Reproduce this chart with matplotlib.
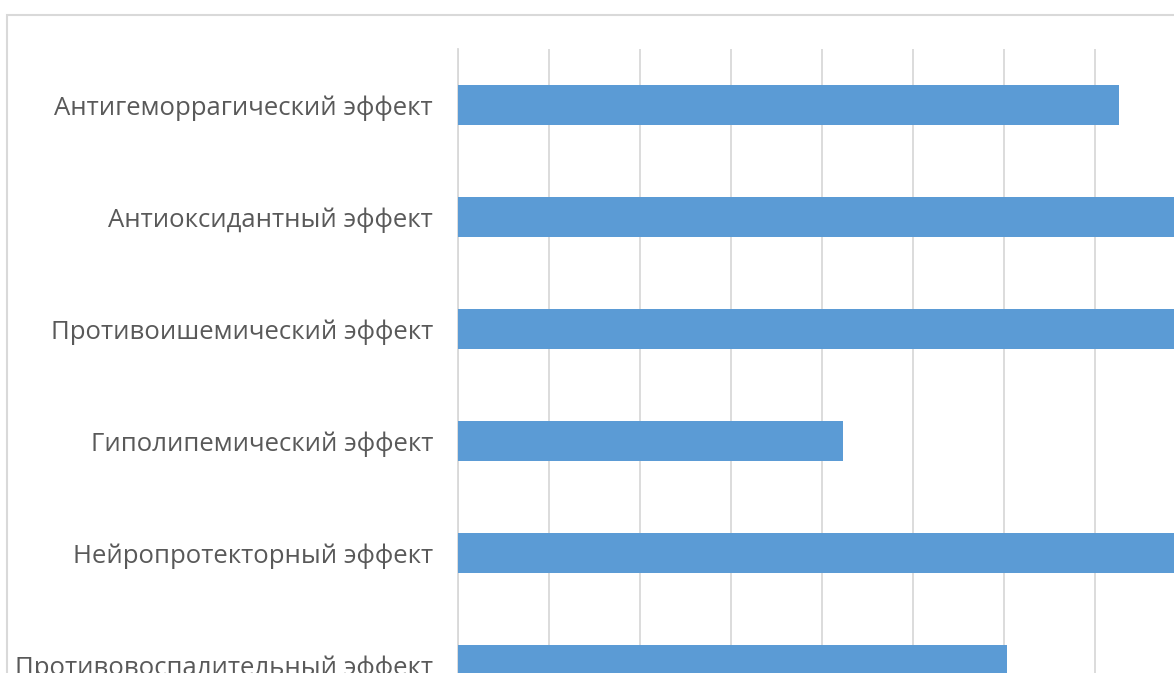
import matplotlib.pyplot as plt
from matplotlib.patches import Rectangle

# Эффекты (сверху вниз) и их оценки
effects = ['Антигеморрагический эффект', 'Антиоксидантный эффект',
           'Противоишемический эффект', 'Гиполипемический эффект',
           'Нейропротекторный эффект', 'Противовоспалительный эффект']
scores = [7.26, 9.0, 9.0, 4.23, 9.0, 6.03]

W, H = 1174, 673
fig = plt.figure(figsize=(W / 100, H / 100), dpi=100)

# область построения: 91 px на деление, уходит за правый и нижний край
x0, y_top = 458, 49
x_max = 9
row = 112
ax = fig.add_axes([x0 / W, 1 - (y_top + row * len(effects)) / H,
                   91 * x_max / W, row * len(effects) / H])

ax.barh(range(len(effects)), scores, height=0.357, color='#5b9bd5', zorder=3)
ax.set_ylim(len(effects) - 0.5, -0.5)
ax.set_xlim(0, x_max)
ax.set_xticks(range(0, x_max + 1))
ax.set_xticklabels([])
ax.grid(axis='x', color='#d9d9d9', linewidth=1.3)
ax.set_axisbelow(True)
ax.set_yticks(range(len(effects)))
ax.set_yticklabels(effects, fontsize=18.5, color='#595959', family='Open Sans')
ax.tick_params(length=0, pad=18)
for s in ['top', 'right', 'bottom']:
    ax.spines[s].set_visible(False)
ax.spines['left'].set_color('#d9d9d9')
ax.spines['left'].set_linewidth(1.3)

# рамка диаграммы
fig.patches.append(Rectangle((7 / W, -0.1), 1.1, 1 - 15 / H + 0.1,
                             transform=fig.transFigure, fill=False,
                             edgecolor='#d9d9d9', linewidth=1.5))

fig.savefig('out.png', dpi=100)
